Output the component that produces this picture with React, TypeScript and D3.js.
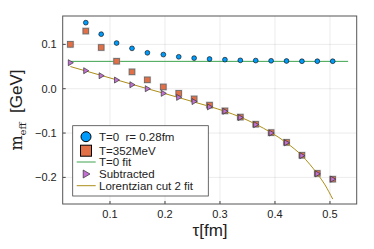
import React from 'react';
import * as d3 from 'd3';

// effective mass data
const tau = [0.028, 0.056, 0.084, 0.112, 0.140, 0.168, 0.197, 0.225, 0.253, 0.281, 0.309, 0.337, 0.365, 0.393, 0.421, 0.449, 0.477, 0.505];
const mT0 = [0.100, 0.149, 0.123, 0.103, 0.091, 0.081, 0.077, 0.072, 0.069, 0.067, 0.0655, 0.064, 0.0635, 0.063, 0.0625, 0.062, 0.062, 0.062];
const mT352 = [0.100, 0.130, 0.093, 0.062, 0.038, 0.020, 0.004, -0.0105, -0.023, -0.037, -0.050, -0.064, -0.080, -0.099, -0.121, -0.150, -0.191, -0.204];
const mSub = [0.0587, 0.0406, 0.0293, 0.0196, 0.009, 0.0, -0.0105, -0.0195, -0.029, -0.041, -0.051, -0.065, -0.081, -0.100, -0.122, -0.151, -0.192, -0.204];
const t0FitX = [0.028, 0.533];
const t0FitY = [0.0617, 0.0617];
const lorX = [0.028, 0.056, 0.084, 0.112, 0.140, 0.168, 0.197, 0.225, 0.253, 0.281, 0.309, 0.337, 0.365, 0.393, 0.421, 0.449, 0.477, 0.491, 0.505];
const lorY = [0.050, 0.040, 0.030, 0.020, 0.010, 0.0, -0.010, -0.020, -0.030, -0.040, -0.051, -0.064, -0.080, -0.099, -0.122, -0.151, -0.192, -0.217, -0.249];
const xTicks = [0.1, 0.2, 0.3, 0.4, 0.5];
const yTicks = [0.1, 0.0, -0.1, -0.2];
const legendLabels = ['T=0  r= 0.28fm', 'T=352MeV', 'T=0 fit', 'Subtracted', 'Lorentzian cut 2 fit'];

const W = 374, H = 249;
const m = { left: 62.7, right: 356.7, top: 16, bottom: 204 };
const font = 'Liberation Sans, Arial, sans-serif';
const blue = '#009AFA', orange = '#E36F47', green = '#3EA44E', purple = '#C271D2', gold = '#AC8E18';

export default function App() {
  const x = d3.scaleLinear().domain([0.014, 0.5486]).range([m.left, m.right]);
  const y = d3.scaleLinear().domain([-0.26, 0.164]).range([m.bottom, m.top]);
  const line = d3.line<number>().x((d, i) => x(lorX[i])).y(d => y(d)).curve(d3.curveMonotoneX);
  const fmt = (v: number) => (v < 0 ? '\u2212' : '') + Math.abs(v).toFixed(1);

  const tri = (cx: number, cy: number, s: number) =>
    `M${cx - s * 0.7},${cy - s}L${cx + s},${cy}L${cx - s * 0.7},${cy + s}Z`;

  const rows = [136.7, 150.7, 162, 174, 185.7];

  return (
    <svg width={W} height={H} style={{ position: 'absolute', left: 0, top: 0, background: '#fff' }}>
      {/* grid */}
      {xTicks.map(t => (
        <line key={'gx' + t} x1={x(t)} x2={x(t)} y1={m.top} y2={m.bottom} stroke="#000" strokeOpacity={0.08} />
      ))}
      {yTicks.map(t => (
        <line key={'gy' + t} x1={m.left} x2={m.right} y1={y(t)} y2={y(t)} stroke="#000" strokeOpacity={0.08} />
      ))}
      {/* ticks */}
      {xTicks.map(t => (
        <g key={'tx' + t}>
          <line x1={x(t)} x2={x(t)} y1={m.bottom} y2={m.bottom - 3} stroke="#444" />
          <text x={x(t)} y={m.bottom + 14} fontSize={11} fontFamily={font} textAnchor="middle" fill="#222">{t.toFixed(1)}</text>
        </g>
      ))}
      {yTicks.map(t => (
        <g key={'ty' + t}>
          <line x1={m.left} x2={m.left + 3} y1={y(t)} y2={y(t)} stroke="#444" />
          <text x={m.left - 6} y={y(t) + 4} fontSize={11} fontFamily={font} textAnchor="end" fill="#222">{fmt(t)}</text>
        </g>
      ))}
      {/* T=0 fit */}
      <line x1={x(t0FitX[0])} x2={x(t0FitX[1])} y1={y(t0FitY[0])} y2={y(t0FitY[1])} stroke={green} strokeWidth={1} />
      {/* T=0 points */}
      {mT0.map((v, i) => (
        <circle key={'b' + i} cx={x(tau[i])} cy={y(v)} r={2.4} fill={blue} stroke="#000" strokeWidth={0.6} />
      ))}
      {/* T=352 points, with faint halo */}
      {mT352.map((v, i) => (
        <g key={'o' + i}>
          <rect x={x(tau[i]) - 3.8} y={y(v) - 3.8} width={7.6} height={7.6} fill="#bbb" opacity={0.5} />
          <rect x={x(tau[i]) - 2.8} y={y(v) - 2.8} width={5.6} height={5.6} fill={orange} stroke="#666" strokeWidth={0.8} />
        </g>
      ))}
      {/* Lorentzian fit */}
      <path d={line(lorY) || ''} fill="none" stroke={gold} strokeWidth={1} />
      {/* subtracted */}
      {mSub.map((v, i) => (
        <path key={'p' + i} d={tri(x(tau[i]), y(v), 3)} fill={purple} stroke="#333" strokeWidth={0.7} />
      ))}
      {/* frame */}
      <rect x={m.left} y={m.top} width={m.right - m.left} height={m.bottom - m.top} fill="none" stroke="#555" strokeWidth={1} />
      {/* legend */}
      <rect x={72.7} y={125.7} width={135.6} height={70.3} fill="#fff" stroke="#444" strokeWidth={0.8} />
      <circle cx={86} cy={rows[0]} r={5} fill={blue} stroke="#000" strokeWidth={1} />
      <rect x={80.5} y={rows[1] - 5.5} width={11} height={11} fill={orange} stroke="#000" strokeWidth={1} />
      <line x1={76.7} x2={95.7} y1={rows[2]} y2={rows[2]} stroke={green} strokeWidth={1} />
      <path d={tri(86, rows[3], 4)} fill={purple} stroke="#333" strokeWidth={0.7} />
      <line x1={76.7} x2={95.7} y1={rows[4]} y2={rows[4]} stroke={gold} strokeWidth={1} />
      {legendLabels.map((l, i) => (
        <text key={l} x={99} y={rows[i] + 4} fontSize={11.5} fontFamily={font} fill="#222" style={{ whiteSpace: 'pre' }}>{l}</text>
      ))}
      {/* axis labels */}
      <text x={210} y={236} fontSize={17} fontFamily={font} textAnchor="middle" fill="#222">τ[fm]</text>
      <g transform="translate(22,110) rotate(-90)">
        <text x={0} y={0} textAnchor="middle" fill="#222" style={{ whiteSpace: 'pre' }}>
          <tspan fontFamily="DejaVu Serif, serif" fontSize={16}>m</tspan>
          <tspan fontFamily="DejaVu Serif, serif" fontSize={10} dy={4}>eff</tspan>
          <tspan fontFamily={font} fontSize={17} dy={-4}>{'  [GeV]'}</tspan>
        </text>
      </g>
    </svg>
  );
}
